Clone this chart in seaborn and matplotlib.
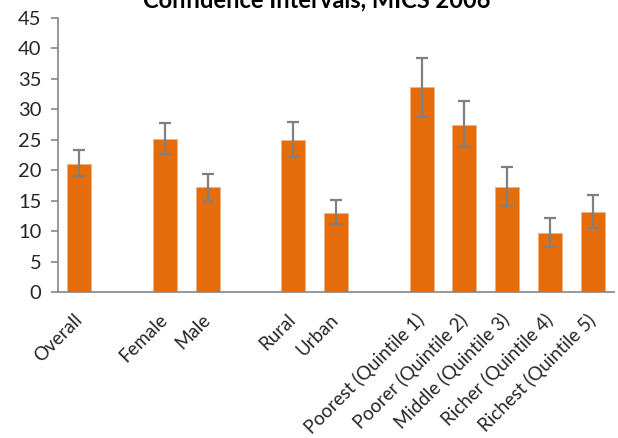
import matplotlib
matplotlib.use("Agg")
import matplotlib.pyplot as plt
import seaborn as sns
import pandas as pd
import numpy as np

categories = ["Overall", " ", "Female", "Male", "  ", "Rural", "Urban", "   ",
              "Poorest (Quintile 1)", "Poorer (Quintile 2)", "Middle (Quintile 3)",
              "Richer (Quintile 4)", "Richest (Quintile 5)"]
values = [21.1, None, 25.1, 17.2, None, 25.0, 13.0, None, 33.6, 27.5, 17.3, 9.7, 13.2]
ci_low = [19.0, None, 22.7, 15.0, None, 22.1, 11.1, None, 28.8, 23.8, 14.1, 7.4, 10.5]
ci_high = [23.3, None, 27.7, 19.4, None, 28.0, 15.1, None, 38.5, 31.4, 20.5, 12.2, 16.0]
title = "Confidence Intervals, MICS 2006"

sns.set_theme(style="white")
plt.rcParams['font.family'] = ['Lato', 'DejaVu Sans']

df = pd.DataFrame({"cat": categories, "val": values, "lo": ci_low, "hi": ci_high})
dfv = df.dropna()

fig = plt.figure(figsize=(6.18, 4.38), dpi=100)
ax = fig.add_axes([58/618, 1-292/438, 556/618, 274/438])

sns.barplot(data=dfv, x="cat", y="val", order=categories, color="#E46C0A",
            saturation=1, width=0.56, edgecolor="#F4B183", linewidth=0.6, ax=ax, errorbar=None)

pos = [categories.index(c) for c in dfv["cat"]]
yerr = np.array([dfv["val"] - dfv["lo"], dfv["hi"] - dfv["val"]])
ax.errorbar(pos, dfv["val"], yerr=yerr, fmt="none", ecolor="#808080",
            elinewidth=1.6, capsize=4.6, capthick=1.6, zorder=5)

ax.set_xlim(-0.5, len(categories) - 0.5)
ax.set_ylim(0, 45)
ax.set_yticks(range(0, 46, 5))
ax.set_xlabel("")
ax.set_ylabel("")

centers = list(range(len(categories)))
ax.set_xticks(centers)
ax.set_xticklabels([c if c.strip() else "" for c in categories], rotation=45,
                   ha="right", va="center", rotation_mode="anchor", fontsize=13.5)
ax.tick_params(axis="x", which="major", length=0, pad=18)
ax.set_xticks(np.arange(-0.5, len(categories), 1.0), minor=True)
ax.tick_params(axis="x", which="minor", length=5, width=1.2, color="#868686", direction="out")
ax.tick_params(axis="y", length=5, width=1.2, color="#868686", direction="out",
               labelsize=14.5, pad=7, left=True)

for s in ["top", "right"]:
    ax.spines[s].set_visible(False)
for s in ["left", "bottom"]:
    ax.spines[s].set_color("#868686")
    ax.spines[s].set_linewidth(1.2)

fig.text(0.513, 1 - 7/438, title, ha="center", va="baseline",
         fontsize=17, fontweight="bold", color="black")

fig.savefig("out.png", dpi=100)
